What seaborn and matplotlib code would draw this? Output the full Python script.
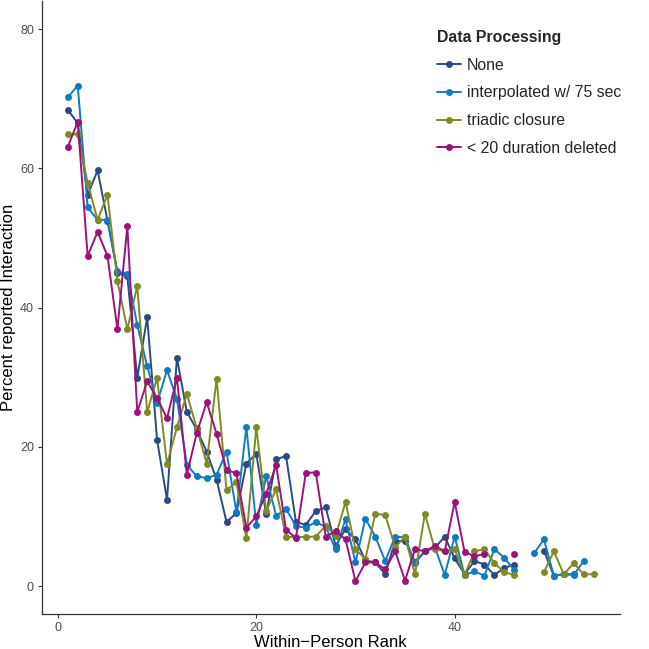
import numpy as np
import pandas as pd
import matplotlib
matplotlib.use("Agg")
import matplotlib.pyplot as plt
from matplotlib.lines import Line2D
import seaborn as sns

nan = np.nan
rank = list(range(1, 55))

none_vals = [68.4, 66.5, 56.2, 59.7, 52.5, 45.0, 44.5, 29.9, 38.6, 21.0,
             12.4, 32.8, 25.0, 22.5, 19.3, 15.3, 9.2, 10.5, 17.6, 19.0,
             10.3, 18.2, 18.7, 9.2, 8.8, 10.8, 11.3, 5.8, 8.2, 6.7,
             3.7, 3.4, 1.7, 6.5, 6.5, 3.5, 5.0, 5.5, 7.1, 4.0,
             1.7, 3.6, 3.1, 1.6, 2.6, 3.1, nan, nan, 5.1, 1.5,
             1.7, 1.7, nan, nan]
interp_vals = [70.2, 71.9, 54.4, 52.6, 52.6, 45.2, 44.9, 37.5, 31.6, 26.3,
               31.0, 26.9, 17.4, 15.8, 15.5, 16.0, 19.3, 10.6, 22.8, 8.8,
               15.8, 10.1, 11.1, 8.6, 8.4, 9.2, 8.5, 5.3, 9.6, 3.4,
               9.7, 7.1, 3.6, 7.1, 7.0, 3.3, 5.0, 5.6, 1.6, 7.1,
               1.6, 2.1, 1.5, 5.3, 4.1, 2.3, nan, 4.7, 6.7, 1.5,
               1.7, 1.6, 3.6, nan]
triadic_vals = [64.9, 64.9, 57.9, 52.6, 56.2, 43.8, 36.9, 43.1, 25.0, 29.9,
                17.5, 22.8, 27.6, 22.7, 17.6, 29.8, 13.8, 14.9, 6.9, 22.8,
                10.8, 13.9, 7.1, 7.0, 7.1, 7.1, 8.7, 7.2, 12.1, 5.3,
                3.9, 10.4, 10.2, 5.6, 7.1, 1.7, 10.4, 5.3, 5.0, 5.3,
                1.6, 5.0, 5.3, 3.3, 2.0, 1.6, nan, nan, 2.0, 5.0,
                1.7, 3.3, 1.7, 1.7]
deleted_vals = [63.1, 66.7, 47.4, 50.9, 47.4, 36.9, 51.7, 25.0, 29.4, 27.0,
                24.1, 29.9, 16.0, 22.0, 26.4, 21.9, 16.7, 16.2, 8.4, 10.0,
                13.3, 17.4, 8.1, 6.9, 16.3, 16.3, 7.1, 7.9, 6.7, 0.7,
                3.4, 3.4, 2.4, 5.0, 0.8, 5.3, 5.0, 5.8, 5.0, 12.1,
                4.9, 4.3, 4.6, nan, nan, 4.6, nan, nan, nan, nan,
                nan, nan, nan, nan]

methods = ["None", "interpolated w/ 75 sec", "triadic closure", "< 20 duration deleted"]
series = [none_vals, interp_vals, triadic_vals, deleted_vals]
colors = ["#2b4a80", "#127bbf", "#7f8a26", "#9c1277"]

frames = []
for m, vals in zip(methods, series):
    df = pd.DataFrame({"rank": rank, "pct": vals, "method": m})
    df["seg"] = df["pct"].isna().cumsum()
    df = df.dropna()
    df["unit"] = m + "_" + df["seg"].astype(str)
    frames.append(df)
data = pd.concat(frames, ignore_index=True)

sns.set_style("ticks")
plt.rcParams["font.family"] = ["Liberation Sans", "DejaVu Sans"]

fig = plt.figure(figsize=(6.49, 6.49), dpi=100)
ax = fig.add_axes([0.064, 0.054, 0.891, 0.944])

palette = dict(zip(methods, colors))
sns.lineplot(data=data, x="rank", y="pct", hue="method", units="unit",
             estimator=None, palette=palette, hue_order=methods,
             marker="o", markersize=5, markeredgewidth=0, linewidth=1.4,
             legend=False, ax=ax, sort=True)

ax.set_xlim(-1.65, 56.65)
ax.set_ylim(-4, 84)
ax.set_xticks([0, 20, 40])
ax.set_yticks([0, 20, 40, 60, 80])
ax.tick_params(axis="both", colors="#333333", labelcolor="#4d4d4d",
               labelsize=9, length=3, width=0.8, pad=2.5)
for s in ["top", "right"]:
    ax.spines[s].set_visible(False)
for s in ["left", "bottom"]:
    ax.spines[s].set_color("#333333")
    ax.spines[s].set_linewidth(0.9)

ax.set_xlabel("Within\u2212Person Rank", fontsize=12, color="black", labelpad=1)
ax.set_ylabel("Percent reported Interaction", fontsize=12, color="black", labelpad=3)

handles = [Line2D([0], [0], color=c, marker="o", markersize=5,
                  markeredgewidth=0, linewidth=1.4) for c in colors]
leg = ax.legend(handles, methods, title="Data Processing", loc="upper left",
                bbox_to_anchor=(0.670, 0.966), frameon=False, fontsize=11.4,
                title_fontproperties={"weight": "bold", "size": 11.4},
                alignment="left", handlelength=1.5, handletextpad=0.4,
                labelspacing=0.8, borderpad=0)

fig.savefig("out.png", dpi=100)
